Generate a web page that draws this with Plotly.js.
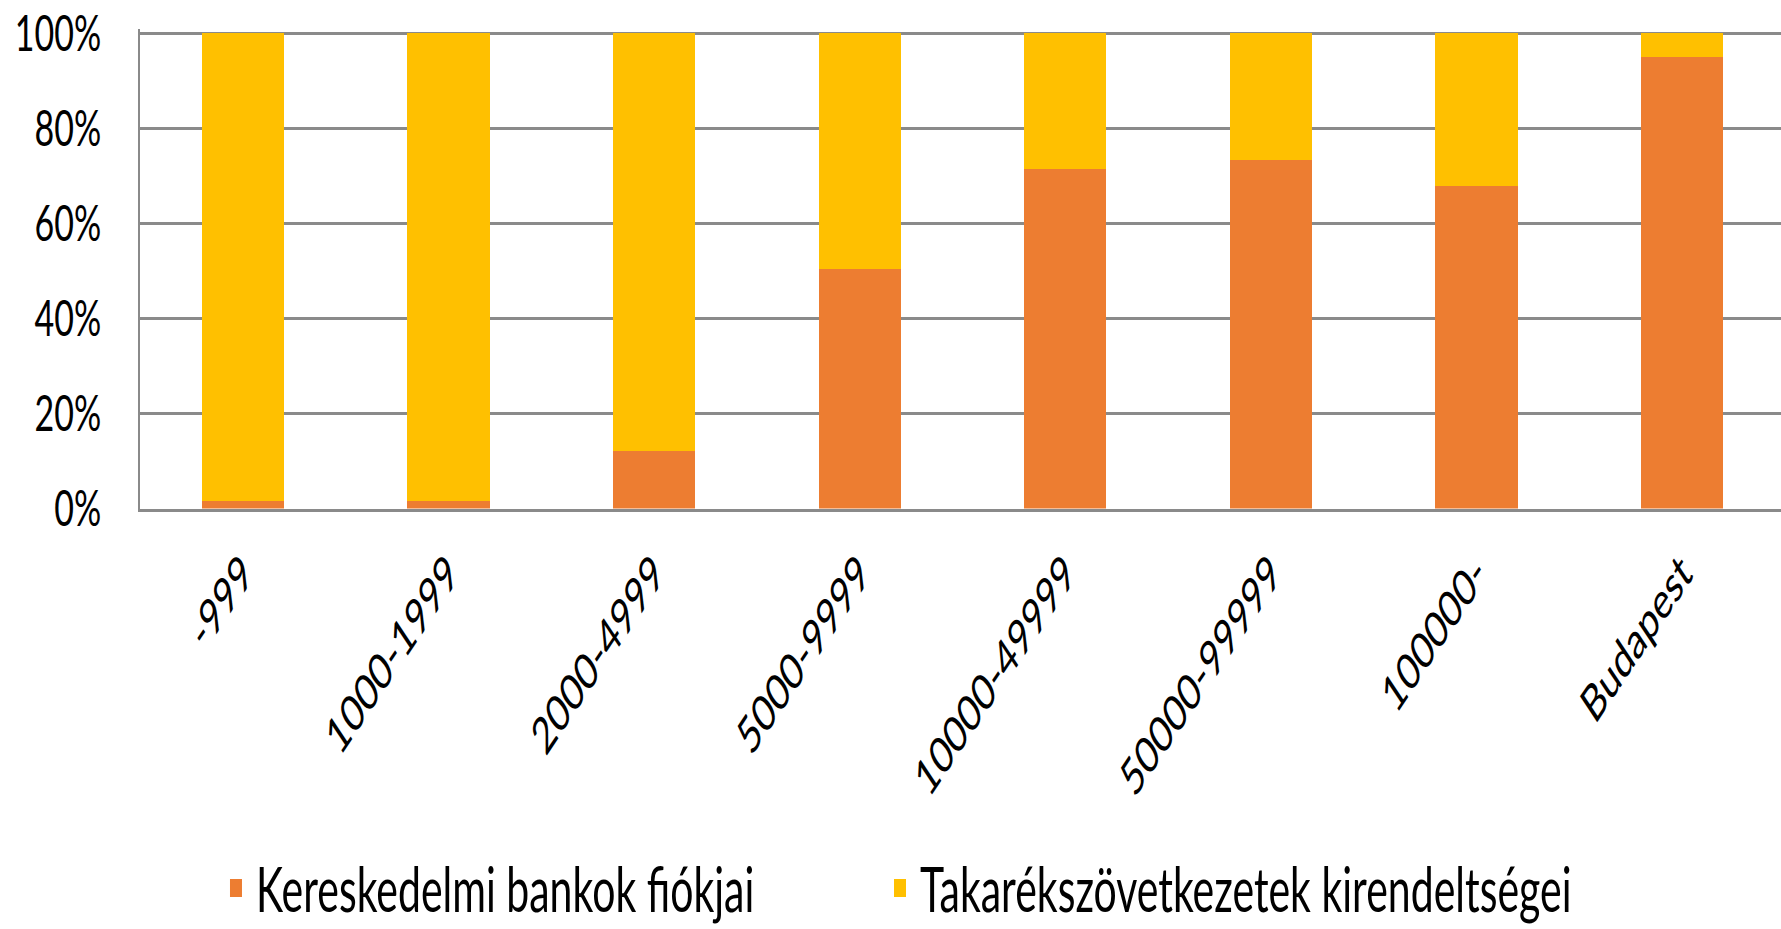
<!DOCTYPE html>
<html>
<head>
<meta charset="utf-8">
<script src="https://cdn.plot.ly/plotly-3.0.1.min.js"></script>
<style>
  html { margin: 0; padding: 0; background: #ffffff; overflow: hidden; }
  body { margin: 0; padding: 0; background: #ffffff; width: 1781px; height: 929px; overflow: visible; }
  #chart { width: 1785px; height: 619px; transform: scaleY(1.5); transform-origin: 0 0; }
</style>
</head>
<body>
<div id="chart"></div>
<script>
// Categories (settlement size groups)
const categories = ['-999', '1000-1999', '2000-4999', '5000-9999', '10000-49999', '50000-99999', '100000-', 'Budapest'];
// Series names
const seriesBank = 'Kereskedelmi bankok fiókjai';
const seriesCoop = 'Takarékszövetkezetek kirendeltségei';
// Shares (%)
const bankShare = [1.5, 1.5, 12.2, 50.4, 71.4, 73.3, 67.8, 95.0];
const coopShare = [98.5, 98.5, 87.8, 49.6, 28.6, 26.7, 32.2, 5.0];
// Y ticks
const yTicks = [0, 20, 40, 60, 80, 100];
const yTickText = ['0%', '20%', '40%', '60%', '80%', '100%'];

const FONT = 'Lato, "Liberation Sans", Arial, sans-serif';
const GRID = '#8a8a8a';

const traces = [
  { type: 'bar', name: seriesBank, x: categories, y: bankShare, marker: { color: '#ED7D31' }, hoverinfo: 'skip', legend: 'legend' },
  { type: 'bar', name: seriesCoop, x: categories, y: coopShare, marker: { color: '#FFC000' }, hoverinfo: 'skip', legend: 'legend2' }
];

const legendFont = { family: FONT, size: 41, color: '#000000' };

const layout = {
  width: 1785,
  height: 619,
  margin: { l: 140, r: 0, t: 19, b: 280 },
  paper_bgcolor: '#ffffff',
  plot_bgcolor: '#ffffff',
  barmode: 'stack',
  bargap: 0.6,
  font: { family: FONT, color: '#000000', size: 34 },
  xaxis: {
    type: 'category',
    tickangle: -45,
    tickfont: { family: FONT, size: 34, color: '#000000' },
    showline: true,
    linecolor: GRID,
    linewidth: 2.5,
    showgrid: false,
    ticks: '',
    ticklabelstandoff: 7
  },
  yaxis: {
    range: [0, 101],
    tickmode: 'array',
    tickvals: yTicks,
    ticktext: yTickText,
    tickfont: { family: FONT, size: 34, color: '#000000' },
    showgrid: true,
    gridcolor: GRID,
    gridwidth: 2,
    showline: true,
    linecolor: GRID,
    linewidth: 2,
    zeroline: false,
    ticks: '',
    ticklabelstandoff: 30
  },
  showlegend: true,
  legend: {
    orientation: 'h',
    xref: 'container',
    yref: 'container',
    x: 0.121,
    xanchor: 'left',
    y: 0.043,
    yanchor: 'middle',
    font: legendFont
  },
  legend2: {
    orientation: 'h',
    xref: 'container',
    yref: 'container',
    x: 0.493,
    xanchor: 'left',
    y: 0.043,
    yanchor: 'middle',
    font: legendFont
  }
};

Plotly.newPlot('chart', traces, layout, { displayModeBar: false, staticPlot: true });
</script>
</body>
</html>
